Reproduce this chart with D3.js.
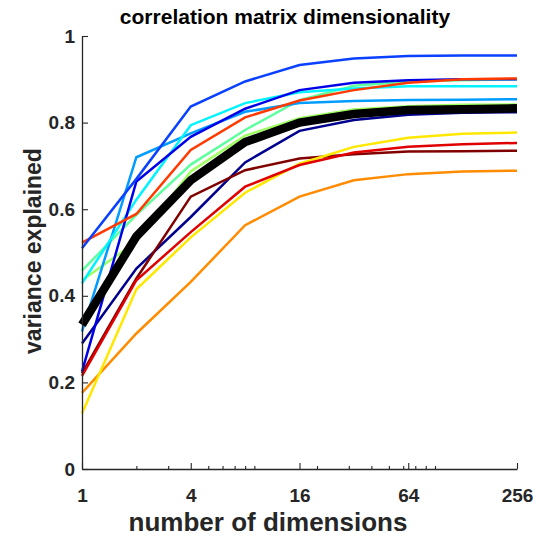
<!DOCTYPE html>
<html>
<head>
<meta charset="utf-8">
<script src="https://cdn.jsdelivr.net/npm/d3@7"></script>
<style>
  html, body { margin: 0; padding: 0; background: #fff; }
  svg { display: block; font-family: "Liberation Sans", Arial, Helvetica, sans-serif; }
</style>
</head>
<body>
<svg id="chart" width="533" height="540"></svg>
<script>
// number of dimensions kept
const dims = [1, 2, 4, 8, 16, 32, 64, 128, 256];

// variance explained per dataset
const seriesRoyalBlue  = [0.510, 0.670, 0.837, 0.895, 0.933, 0.948, 0.954, 0.955, 0.955];
const seriesBlue       = [0.225, 0.664, 0.767, 0.832, 0.875, 0.892, 0.898, 0.900, 0.900];
const seriesNavy       = [0.290, 0.463, 0.582, 0.708, 0.781, 0.806, 0.818, 0.823, 0.824];
const seriesSky        = [0.317, 0.720, 0.775, 0.825, 0.845, 0.850, 0.852, 0.853, 0.854];
const seriesCyan       = [0.429, 0.622, 0.794, 0.845, 0.870, 0.879, 0.884, 0.884, 0.884];
const seriesAqua       = [0.458, 0.587, 0.703, 0.783, 0.852, 0.885, 0.895, 0.898, 0.900];
const seriesLime       = [0.436, 0.525, 0.687, 0.770, 0.810, 0.830, 0.838, 0.841, 0.842];
const seriesYellow     = [0.128, 0.415, 0.535, 0.638, 0.705, 0.744, 0.765, 0.774, 0.777];
const seriesOrange     = [0.176, 0.313, 0.432, 0.563, 0.629, 0.667, 0.681, 0.687, 0.689];
const seriesRedOrange  = [0.523, 0.589, 0.737, 0.812, 0.851, 0.875, 0.892, 0.900, 0.902];
const seriesRed        = [0.215, 0.436, 0.547, 0.652, 0.702, 0.731, 0.744, 0.750, 0.753];
const seriesMaroon     = [0.221, 0.440, 0.629, 0.690, 0.717, 0.727, 0.733, 0.734, 0.735];
const seriesMean       = [0.333, 0.537, 0.667, 0.755, 0.800, 0.820, 0.829, 0.831, 0.833];

const yTicks = [0, 0.2, 0.4, 0.6, 0.8, 1];
const xTicks = [1, 4, 16, 64, 256];
const xMinorTicks = [2, 3, 5, 6, 7, 8, 9, 20, 30, 40, 50, 60, 70, 80, 90];

const lines = [
  { values: seriesNavy,      color: "#00008f" },
  { values: seriesMaroon,    color: "#800000" },
  { values: seriesOrange,    color: "#ff8c00" },
  { values: seriesYellow,    color: "#ffe800" },
  { values: seriesRed,       color: "#e00000" },
  { values: seriesLime,      color: "#9dff60" },
  { values: seriesAqua,      color: "#5fffa0" },
  { values: seriesSky,       color: "#009cff" },
  { values: seriesCyan,      color: "#00f4ff" },
  { values: seriesBlue,      color: "#0000e8" },
  { values: seriesRedOrange, color: "#ff3a00" },
  { values: seriesRoyalBlue, color: "#0a40ff" }
];

const svg = d3.select("#chart");
const margin = { left: 82, right: 16, top: 36, bottom: 71 };
const W = 533, H = 540;

const x = d3.scaleLog().base(2).domain([1, 256]).range([margin.left, W - margin.right]);
const y = d3.scaleLinear().domain([0, 1]).range([H - margin.bottom, margin.top]);

const line = d3.line()
  .x((d, i) => x(dims[i]))
  .y(d => y(d));

const plot = svg.append("g");

lines.forEach(s => {
  plot.append("path")
    .datum(s.values)
    .attr("d", line)
    .attr("fill", "none")
    .attr("stroke", s.color)
    .attr("stroke-width", 2.5)
    .attr("stroke-linejoin", "miter");
});

plot.append("path")
  .datum(seriesMean)
  .attr("d", line)
  .attr("fill", "none")
  .attr("stroke", "#000")
  .attr("stroke-width", 8.5)
  .attr("stroke-linejoin", "miter");

// axes
const axisColor = "#262626";
const fmtY = d => (d === 0 ? "0" : d === 1 ? "1" : d3.format(".1f")(d));

const yAxis = svg.append("g")
  .attr("transform", `translate(${margin.left},0)`)
  .call(d3.axisLeft(y).tickValues(yTicks).tickFormat(fmtY).tickSizeInner(-6).tickSizeOuter(0).tickPadding(7));

const xAxis = svg.append("g")
  .attr("transform", `translate(0,${H - margin.bottom})`)
  .call(d3.axisBottom(x).tickValues(xTicks).tickFormat(d3.format("d")).tickSizeInner(-6).tickSizeOuter(0).tickPadding(20));

const xMinor = svg.append("g")
  .attr("transform", `translate(0,${H - margin.bottom})`)
  .call(d3.axisBottom(x).tickValues(xMinorTicks).tickFormat("").tickSizeInner(-3).tickSizeOuter(0));
xMinor.select(".domain").remove();

[yAxis, xAxis, xMinor].forEach(g => {
  g.selectAll(".domain").attr("stroke", axisColor).attr("stroke-width", 1.3);
  g.selectAll(".tick line").attr("stroke", axisColor).attr("stroke-width", 1.1);
  g.selectAll(".tick text")
    .attr("fill", "#262626")
    .attr("font-size", 19)
    .attr("font-weight", "bold")
    .attr("font-family", "'Liberation Sans', Arial, sans-serif");
});

// titles
svg.append("text")
  .attr("x", 285)
  .attr("y", 24)
  .attr("text-anchor", "middle")
  .attr("font-size", 21)
  .attr("font-weight", "bold")
  .attr("fill", "#000")
  .text("correlation matrix dimensionality");

svg.append("text")
  .attr("x", 268)
  .attr("y", 531)
  .attr("text-anchor", "middle")
  .attr("font-size", 26)
  .attr("font-weight", "bold")
  .attr("fill", "#262626")
  .text("number of dimensions");

svg.append("text")
  .attr("transform", `translate(41,251) rotate(-90)`)
  .attr("text-anchor", "middle")
  .attr("font-size", 23)
  .attr("font-weight", "bold")
  .attr("fill", "#262626")
  .text("variance explained");
</script>
</body>
</html>
